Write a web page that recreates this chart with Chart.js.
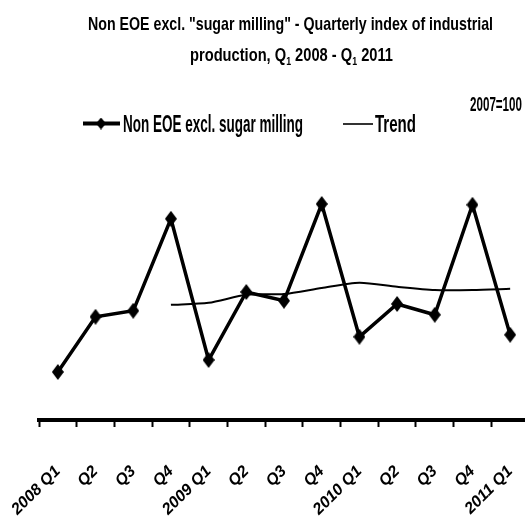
<!DOCTYPE html>
<html>
<head>
<meta charset="utf-8">
<title>Non EOE excl. sugar milling</title>
<script src="https://cdn.jsdelivr.net/npm/chart.js@4.4.1/dist/chart.umd.min.js"></script>
<style>
    html, body { margin: 0; padding: 0; background: #fff; }
    #frame { width: 525px; height: 520px; overflow: hidden; }
    /* the original axis runs a few pixels past the right edge */
    #wrap { width: 529px; height: 520px; position: relative; }
</style>
</head>
<body>
<div id="frame"><div id="wrap"><canvas id="iipChart"></canvas></div></div>
<script>
// Quarterly index, 2007=100
const quarters = ['2008 Q1', 'Q2', 'Q3', 'Q4', '2009 Q1', 'Q2', 'Q3', 'Q4', '2010 Q1', 'Q2', 'Q3', 'Q4', '2011 Q1'];
const nonEoe = [82, 95.8, 97.3, 120.3, 85, 102, 99.8, 124, 90.8, 99, 96.3, 123.8, 91.3];
const trend = [null, null, null, 98.8, 99.3, 101.3, 101.5, 103, 104.3, 103.3, 102.5, 102.5, 102.8];

const titleLine1 = 'Non EOE excl. "sugar milling" - Quarterly index of industrial';
const seriesName = 'Non EOE excl. sugar milling';
const trendName = 'Trend';
const baseNote = '2007=100';

const NARROW = '"Liberation Sans Narrow", "Liberation Sans", sans-serif';

// diamond marker, a bit taller than wide
function makeDiamond(w, h) {
    const c = document.createElement('canvas');
    c.width = w;
    c.height = h;
    const g = c.getContext('2d');
    g.fillStyle = '#000';
    g.beginPath();
    g.moveTo(w / 2, 0);
    g.lineTo(w, h / 2);
    g.lineTo(w / 2, h);
    g.lineTo(0, h / 2);
    g.closePath();
    g.fill();
    return c;
}
const diamond = makeDiamond(12, 16);
const smallDiamond = makeDiamond(10, 12);

// draws text pieces squeezed to a given width (the original text is narrow)
function fitText(ctx, segs, x, baseline, width, size) {
    const widths = segs.map(s => {
        ctx.font = 'bold ' + (s.sub ? size * 0.6 : size) + 'px ' + NARROW;
        return ctx.measureText(s.t).width;
    });
    const total = widths.reduce((a, b) => a + b, 0);
    ctx.save();
    ctx.translate(x, baseline);
    ctx.scale(width / total, 1);
    ctx.fillStyle = '#000';
    ctx.textBaseline = 'alphabetic';
    ctx.textAlign = 'left';
    let cx = 0;
    segs.forEach((s, i) => {
        ctx.font = 'bold ' + (s.sub ? size * 0.6 : size) + 'px ' + NARROW;
        ctx.fillText(s.t, cx, s.sub ? size * 0.22 : 0);
        cx += widths[i];
    });
    ctx.restore();
}

const overlay = {
    id: 'overlay',
    afterDraw(chart) {
        const ctx = chart.ctx;
        // title
        fitText(ctx, [{ t: titleLine1 }], 88, 29.5, 405, 19);
        fitText(ctx, [
            { t: 'production, Q' }, { t: '1', sub: true },
            { t: ' 2008 - Q' }, { t: '1', sub: true }, { t: ' 2011' }
        ], 190, 60.5, 203, 19);

        // legend
        ctx.save();
        ctx.strokeStyle = '#000';
        ctx.lineWidth = 4;
        ctx.beginPath();
        ctx.moveTo(83, 123.5);
        ctx.lineTo(120, 123.5);
        ctx.stroke();
        ctx.drawImage(smallDiamond, 96, 117.5);
        ctx.lineWidth = 1.6;
        ctx.beginPath();
        ctx.moveTo(343, 124);
        ctx.lineTo(373, 124);
        ctx.stroke();
        ctx.restore();
        fitText(ctx, [{ t: seriesName }], 123, 131.5, 180, 24);
        fitText(ctx, [{ t: trendName }], 375, 131.5, 41, 24);

        // base year note
        fitText(ctx, [{ t: baseNote }], 470, 111, 52, 20);
    }
};

const ctx = document.getElementById('iipChart').getContext('2d');
window.iipChart = new Chart(ctx, {
    type: 'line',
    data: {
        labels: quarters,
        datasets: [{
            label: seriesName,
            data: nonEoe,
            borderColor: '#000',
            backgroundColor: '#000',
            borderWidth: 3.5,
            pointStyle: diamond,
            tension: 0
        }, {
            label: trendName,
            data: trend,
            borderColor: '#000',
            borderWidth: 2,
            pointRadius: 0,
            tension: 0.25
        }]
    },
    options: {
        responsive: true,
        maintainAspectRatio: false,
        animation: false,
        layout: {
            autoPadding: false,
            padding: { top: 180, left: 39, right: 0, bottom: 0 }
        },
        plugins: {
            legend: { display: false },
            title: { display: false },
            tooltip: { enabled: false }
        },
        scales: {
            y: {
                display: false,
                min: 70,
                max: 130
            },
            x: {
                offset: true,
                afterFit: scale => {
                    scale.height = 100;
                    scale.paddingLeft = 0;
                    scale.paddingRight = 0;
                },
                border: { display: true, color: '#000', width: 4 },
                grid: {
                    offset: true,
                    drawOnChartArea: false,
                    drawTicks: true,
                    tickLength: 7,
                    tickWidth: 2,
                    tickColor: '#000'
                },
                ticks: {
                    color: '#000',
                    autoSkip: false,
                    minRotation: 45,
                    maxRotation: 45,
                    padding: 35,
                    font: { family: '"Liberation Sans", sans-serif', size: 16, style: 'italic', weight: 'bold' }
                }
            }
        }
    },
    plugins: [overlay]
});
</script>
</body>
</html>
